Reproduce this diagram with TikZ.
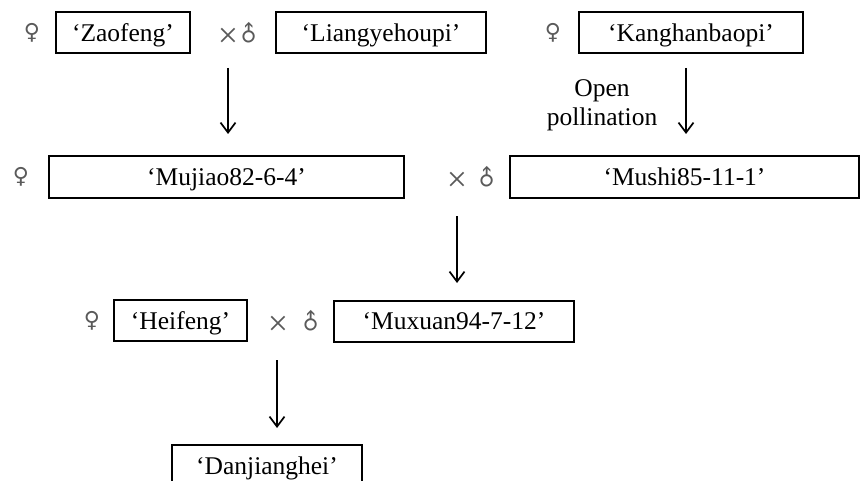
\documentclass[tikz,border=0pt]{standalone}
\usepackage{fontspec}
\setmainfont{Liberation Serif}
\newfontfamily\symfont{DejaVu Sans}
\usetikzlibrary{arrows.meta}
\definecolor{symgray}{HTML}{5A5A5A}
\tikzset{
  cv/.style={draw=black, line width=1.9pt, inner sep=0pt, minimum height=41pt,
    font=\fontsize{25.5}{28}\selectfont, text depth=0pt, anchor=center},
  sym/.style={text=symgray, font=\symfont\fontsize{22}{24}\selectfont, inner sep=0pt},
  crs/.style={text=symgray, font=\fontsize{36}{38}\selectfont, inner sep=0pt},
  arr/.style={line width=1.7pt, -{Straight Barb[length=10pt,width=15pt,line width=1.7pt]}},
  lab/.style={font=\fontsize{25.5}{29}\selectfont, align=center, inner sep=0pt}
}
\begin{document}
\begin{tikzpicture}[x=1pt,y=-1pt]
\useasboundingbox (0,0) rectangle (861,481);
\clip (0,0) rectangle (861,481);
% row 1
\node[sym] (f1) at (32,33) {♀};
\node[cv, minimum width=134pt] (zao) at (123,32.5) {‘Zaofeng’};
\node[crs] (x1) at (228,38) {×};
\node[sym, rotate=45] (m1) at (249,34) {♂};
\node[cv, minimum width=210pt] (liang) at (381,32.5) {‘Liangyehoupi’};
\node[sym] (f2) at (553,33) {♀};
\node[cv, minimum width=224pt] (kang) at (691,32.5) {‘Kanghanbaopi’};
\node[lab] (op) at (602,105) {Open\\pollination};
% row 2
\node[sym] (f3) at (21,177) {♀};
\node[cv, minimum width=355pt, minimum height=42pt] (mujiao) at (226.5,177) {‘Mujiao82-6-4’};
\node[crs] (x2) at (457,182) {×};
\node[sym, rotate=45] (m2) at (487,178) {♂};
\node[cv, minimum width=349pt, minimum height=42pt] (mushi) at (684.5,177) {‘Mushi85-11-1’};
% row 3
\node[sym] (f4) at (92,321) {♀};
\node[cv, minimum width=133pt] (heifeng) at (180.5,320.5) {‘Heifeng’};
\node[crs] (x3) at (278,326) {×};
\node[sym, rotate=45] (m3) at (311,322) {♂};
\node[cv, minimum width=240pt] (muxuan) at (454,321.5) {‘Muxuan94-7-12’};
% row 4
\node[cv, minimum width=190pt, minimum height=42pt] (danj) at (267,466) {‘Danjianghei’};
% arrows
\coordinate (a1s) at (228,68);  \coordinate (a1e) at (228,134);
\coordinate (a2s) at (686,68);  \coordinate (a2e) at (686,134);
\coordinate (a3s) at (457,216); \coordinate (a3e) at (457,283);
\coordinate (a4s) at (277,360); \coordinate (a4e) at (277,428);
\draw[arr] (a1s) -- (a1e);
\draw[arr] (a2s) -- (a2e);
\draw[arr] (a3s) -- (a3e);
\draw[arr] (a4s) -- (a4e);
\end{tikzpicture}
\end{document}
